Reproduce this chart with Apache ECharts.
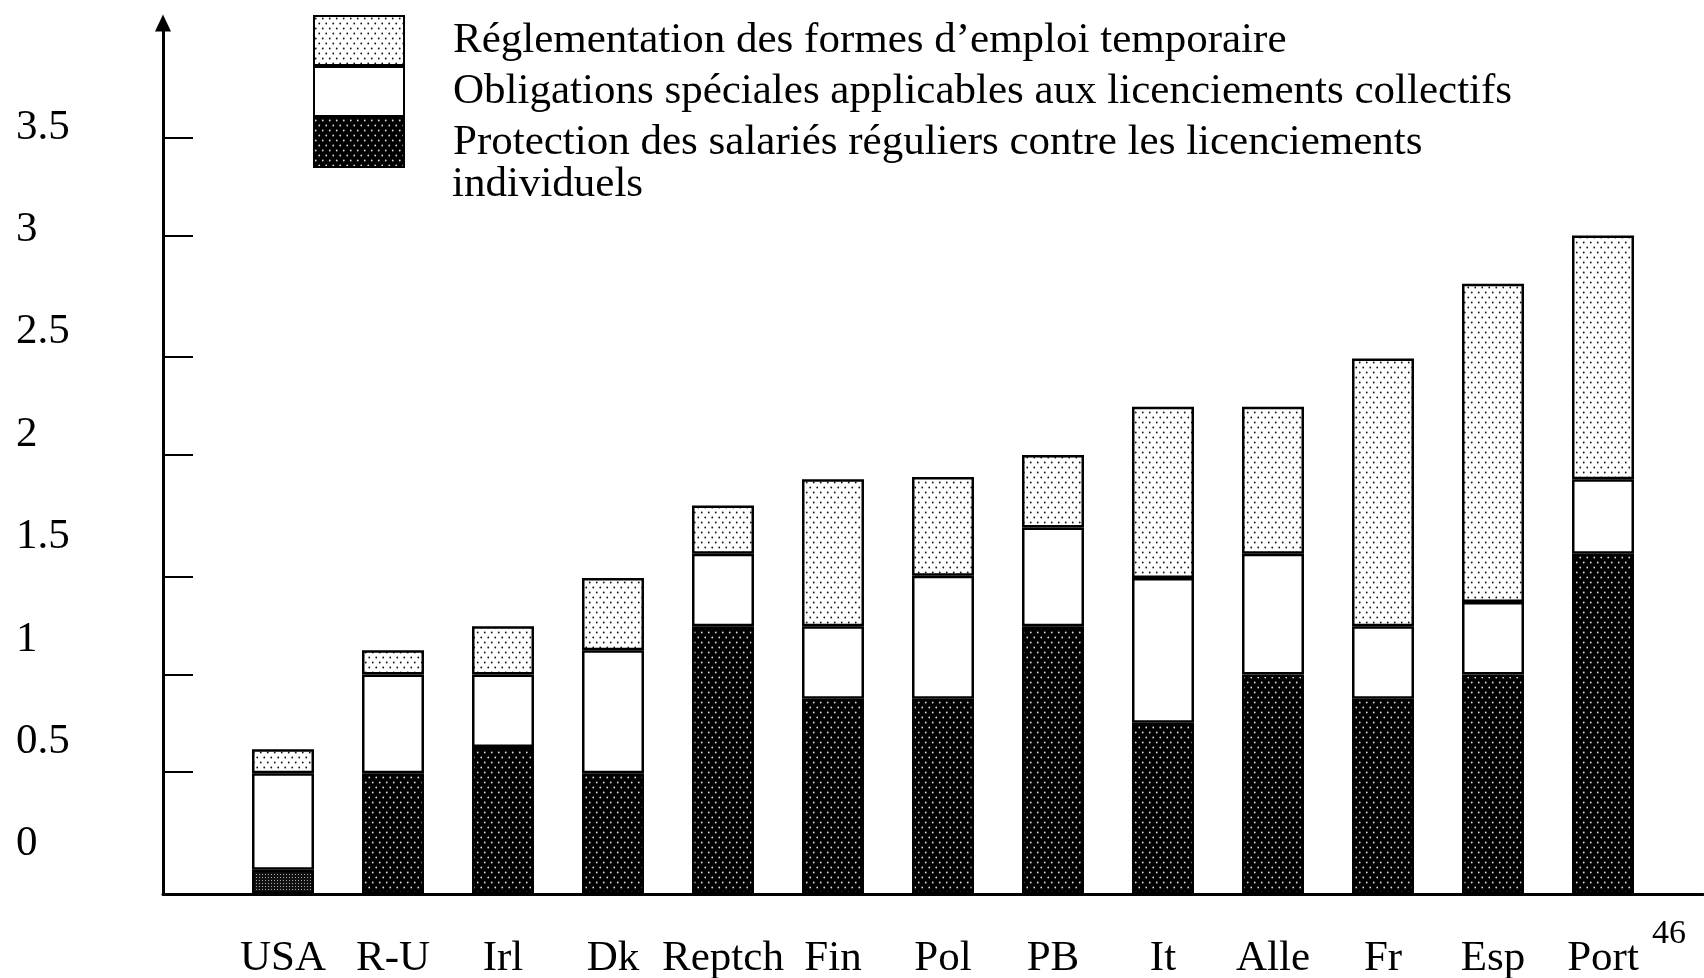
<!DOCTYPE html>
<html lang="fr">
<head>
<meta charset="UTF-8">
<title>Protection de l'emploi</title>
<script src="https://cdn.jsdelivr.net/npm/echarts@6/dist/echarts.min.js"></script>
<style>
  html, body { margin: 0; padding: 0; background: #fff; }
  #chart { width: 1704px; height: 978px; }
</style>
</head>
<body>
<div id="chart"></div>
<script>
const countries = ["USA", "R-U", "Irl", "Dk", "Reptch", "Fin", "Pol", "PB", "It", "Alle", "Fr", "Esp", "Port"];
const individual = [0.11, 0.55, 0.67, 0.55, 1.22, 0.89, 0.89, 1.22, 0.78, 1.0, 0.89, 1.0, 1.55];
const collective = [0.44, 0.45, 0.33, 0.56, 0.33, 0.33, 0.56, 0.45, 0.66, 0.55, 0.33, 0.33, 0.34];
const temporary = [0.11, 0.11, 0.22, 0.33, 0.22, 0.67, 0.45, 0.33, 0.78, 0.67, 1.22, 1.45, 1.11];
const yLabels = [0, 0.5, 1, 1.5, 2, 2.5, 3, 3.5];
const tickMarks = [0.556, 1, 1.446, 2, 2.446, 3, 3.444];

const nameTemp = "Réglementation des formes d’emploi temporaire";
const nameColl = "Obligations spéciales applicables aux licenciements collectifs";
const nameInd = "Protection des salariés réguliers contre les licenciements";
const nameIndMore = "individuels"; // second line of the last legend entry

const FONT = "'Liberation Serif', 'DejaVu Serif', serif";
const yMax = 3.968;

// small repeating dot textures, like the old b/w print
function dotPattern(bg, dot, w, h, r) {
  const c = document.createElement("canvas");
  c.width = w; c.height = h;
  const g = c.getContext("2d");
  g.fillStyle = bg;
  g.fillRect(0, 0, w, h);
  g.fillStyle = dot;
  [[w / 4, h / 4], [3 * w / 4, 3 * h / 4]].forEach(([x, y]) => {
    g.beginPath();
    g.arc(x, y, r, 0, Math.PI * 2);
    g.fill();
  });
  return { image: c, repeat: "repeat" };
}

function gridPattern() {
  const c = document.createElement("canvas");
  c.width = 3; c.height = 3;
  const g = c.getContext("2d");
  g.fillStyle = "#111";
  g.fillRect(0, 0, 3, 3);
  g.fillStyle = "#aaa";
  g.fillRect(1, 1, 1, 1);
  return { image: c, repeat: "repeat" };
}

const lightFill = dotPattern("#fff", "#111", 7, 10, 0.9);
const darkFill = dotPattern("#000", "#ddd", 7, 10, 0.9);
const usaFill = gridPattern();

const chart = echarts.init(document.getElementById("chart"));

const border = { borderColor: "#000", borderWidth: 2.5 };
const plainText = { fontFamily: FONT, fontWeight: "normal", color: "#000" };

const option = {
  animation: false,
  backgroundColor: "#fff",
  title: [
    {
      text: "46", left: 1652, top: 917, padding: 0,
      textStyle: Object.assign({ fontSize: 34, lineHeight: 34 }, plainText)
    },
    {
      text: nameIndMore, left: 452, top: 163, padding: 0,
      textStyle: Object.assign({ fontSize: 43, lineHeight: 43 }, plainText)
    }
  ],
  legend: {
    orient: "vertical",
    left: 313,
    top: 15,
    padding: 0,
    itemGap: 0,
    itemWidth: 90,
    itemHeight: 49,
    icon: "rect",
    selectedMode: false,
    data: [nameTemp, nameColl, nameInd],
    itemStyle: { borderColor: "#000", borderWidth: 2 },
    textStyle: Object.assign({ fontSize: 43, lineHeight: 37, padding: [0, 0, 12, 44] }, plainText)
  },
  grid: [
    { left: 163, right: 1, top: 23, bottom: 84, outerBoundsMode: "none" },
    { left: 228, right: 46, top: 23, bottom: 84, outerBoundsMode: "none" }
  ],
  xAxis: [
    {
      gridIndex: 0, type: "value", min: 0, max: 1,
      axisLine: { lineStyle: { color: "#000", width: 3 } },
      axisTick: { show: false }, axisLabel: { show: false }, splitLine: { show: false }
    },
    {
      gridIndex: 1, type: "category", data: countries,
      axisLine: { show: false }, axisTick: { show: false },
      axisLabel: Object.assign({ interval: 0, fontSize: 43, lineHeight: 43, margin: 43 }, plainText)
    }
  ],
  yAxis: [
    {
      gridIndex: 0, type: "value", min: 0, max: yMax, position: "left",
      axisLine: {
        show: true, symbol: ["none", "triangle"], symbolSize: [16, 17],
        lineStyle: { color: "#000", width: 3 }
      },
      axisTick: { show: true, inside: true, length: 30, customValues: tickMarks, lineStyle: { color: "#000", width: 2 } },
      axisLabel: { show: false },
      splitLine: { show: false }
    },
    {
      // labels only: they sit a bit above the ticks in the original
      gridIndex: 0, type: "value", min: -0.244, max: 4.009, position: "left",
      axisLine: { show: false }, axisTick: { show: false }, splitLine: { show: false },
      axisLabel: Object.assign({ customValues: yLabels, align: "left", margin: 147, fontSize: 43 }, plainText)
    },
    { gridIndex: 1, type: "value", min: 0, max: yMax, show: false }
  ],
  series: [
    {
      name: nameInd, type: "bar", stack: "t", xAxisIndex: 1, yAxisIndex: 2, barWidth: 62,
      itemStyle: Object.assign({ color: darkFill }, border),
      data: individual.map((v, i) => i === 0 ? { value: v, itemStyle: { color: usaFill } } : v)
    },
    {
      name: nameColl, type: "bar", stack: "t", xAxisIndex: 1, yAxisIndex: 2, barWidth: 62,
      itemStyle: Object.assign({ color: "#fff" }, border),
      data: collective
    },
    {
      name: nameTemp, type: "bar", stack: "t", xAxisIndex: 1, yAxisIndex: 2, barWidth: 62,
      itemStyle: Object.assign({ color: lightFill }, border),
      data: temporary
    }
  ]
};

chart.setOption(option);
</script>
</body>
</html>
